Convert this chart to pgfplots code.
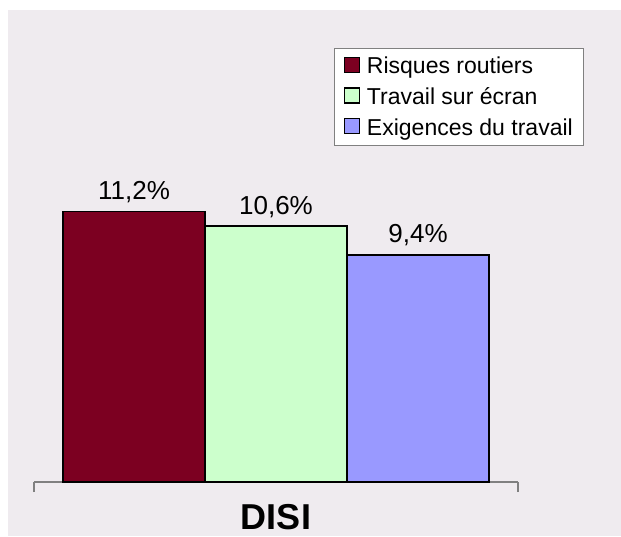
\documentclass[border=0pt]{standalone}
\usepackage{fontspec}
\setmainfont{Liberation Sans}
\usepackage{pgfplots}
\pgfplotsset{compat=1.18}
\definecolor{bg}{RGB}{239,235,239}
\definecolor{cA}{RGB}{124,0,33}
\definecolor{cB}{RGB}{204,255,204}
\definecolor{cC}{RGB}{153,153,255}
\definecolor{axgray}{RGB}{128,128,128}
\begin{document}
\begin{tikzpicture}[x=1pt,y=1pt]
\fill[white] (0,0) rectangle (621,-536);
\fill[bg] (8,-10) rectangle (621,-536);
\useasboundingbox (0,0) rectangle (621,-536);
\begin{axis}[
  at={(34pt,-482pt)}, anchor=south west,
  scale only axis, width=484pt, height=434.7pt,
  xmin=-1, xmax=1, ymin=0, ymax=18,
  clip=false,
  axis x line*=bottom, axis y line=none,
  x axis line style={-, draw=axgray, line width=1.2pt},
  xtick={-1,1}, xticklabels={}, ytick=\empty,
  major tick length=10pt, tick align=outside,
  tick style={draw=axgray, line width=1.2pt},
  ybar=0pt, bar width=142pt,
  point meta=explicit symbolic,
  nodes near coords,
  nodes near coords style={font=\fontsize{26}{30}\selectfont, anchor=base, yshift=12pt, text=black},
  legend style={at={(1.137,0.9995)}, anchor=north east, fill=white, draw=axgray, line width=1pt,
    font=\fontsize{23}{26}\selectfont, cells={anchor=west}, row sep=8.5pt, inner xsep=9pt, inner ysep=7pt},
  legend image code/.code={\draw[#1] (0pt,-6pt) rectangle (15pt,9pt); \path (20pt,0pt);},
]
\addplot[fill=cA, draw=black, line width=1.2pt] coordinates {(0,11.2) [11,2\%]};
\addlegendentry{Risques routiers}
\addplot[fill=cB, draw=black, line width=1.2pt] coordinates {(0,10.6) [10,6\%]};
\addlegendentry{Travail sur écran}
\addplot[fill=cC, draw=black, line width=1.2pt] coordinates {(0,9.4) [9,4\%]};
\addlegendentry{Exigences du travail}
\node[font=\bfseries\fontsize{36}{40}\selectfont, anchor=base, inner sep=0pt, yshift=-47.5pt] at (axis cs:0,0) {DISI};
\end{axis}
\end{tikzpicture}
\end{document}
